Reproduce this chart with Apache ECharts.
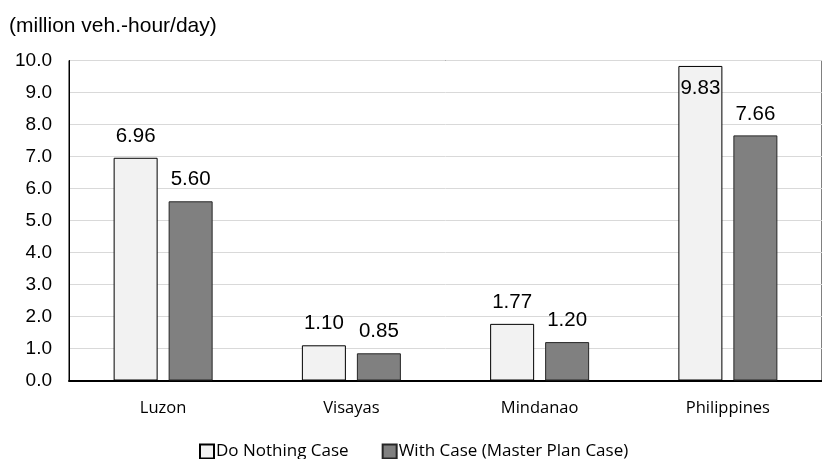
<!DOCTYPE html>
<html>
<head>
<meta charset="utf-8">
<script src="https://cdn.jsdelivr.net/npm/echarts@6/dist/echarts.min.js"></script>
<style>
  html, body { margin: 0; padding: 0; background: #fff; }
  #chart { width: 822px; height: 459px; }
</style>
</head>
<body>
<div id="chart"></div>
<script>
// Regions and congestion values (million vehicle-hours per day)
const regions = ['Luzon', 'Visayas', 'Mindanao', 'Philippines'];
const doNothing = [6.96, 1.10, 1.77, 9.83];
const withCase = [5.60, 0.85, 1.20, 7.66];
const seriesNames = ['Do Nothing Case', 'With Case (Master Plan Case)'];
const unitLabel = '(million veh.-hour/day)';

const chart = echarts.init(document.getElementById('chart'));

const numFont = '"Liberation Sans", Arial, sans-serif';
const catFont = '"Open Sans", "Noto Sans", sans-serif';

// The tallest bar carries its label just inside its top edge
function labelFor(values, insideIdx) {
  return values.map((v, i) => ({
    value: v,
    label: i === insideIdx
      ? { position: 'insideTop', distance: 12 }
      : {}
  }));
}

chart.setOption({
  animation: false,
  title: {
    text: unitLabel,
    left: 4,
    top: 11,
    textStyle: { fontFamily: numFont, fontSize: 21, fontWeight: 'normal', color: '#000' }
  },
  legend: {
    bottom: -6,
    left: 194,
    itemWidth: 14,
    itemHeight: 14,
    itemGap: 33,
    icon: 'rect',
    textStyle: { fontFamily: catFont, fontSize: 17, color: '#000', padding: [0, 0, 0, -3] },
    data: seriesNames
  },
  grid: {
    left: 69,
    top: 60.5,
    width: 766,
    height: 320,
    show: true,
    borderColor: '#000',
    borderWidth: 1,
    containLabel: false
  },
  xAxis: {
    type: 'category',
    data: regions,
    axisLine: { lineStyle: { color: '#000', width: 2 } },
    axisTick: { show: false },
    axisLabel: { fontFamily: catFont, fontSize: 16.5, color: '#000', margin: 19 }
  },
  yAxis: {
    type: 'value',
    min: 0,
    max: 10,
    interval: 1,
    axisLine: { show: true, lineStyle: { color: '#000', width: 1 } },
    axisTick: { show: false },
    axisLabel: {
      fontFamily: numFont, fontSize: 19, color: '#000', margin: 17,
      formatter: v => v.toFixed(1)
    },
    splitLine: { lineStyle: { color: '#d9d9d9', width: 1 } }
  },
  series: [
    {
      name: seriesNames[0],
      type: 'bar',
      barWidth: 44,
      barGap: '25%',
      data: labelFor(doNothing, 3),
      itemStyle: { color: '#f2f2f2', borderColor: '#000', borderWidth: 1 },
      label: {
        show: true, position: 'top', distance: 11,
        fontFamily: numFont, fontSize: 20.5, color: '#000',
        formatter: p => p.value.toFixed(2)
      }
    },
    {
      name: seriesNames[1],
      type: 'bar',
      barWidth: 44,
      data: withCase,
      itemStyle: { color: '#808080', borderColor: '#262626', borderWidth: 1 },
      label: {
        show: true, position: 'top', distance: 11,
        fontFamily: numFont, fontSize: 20.5, color: '#000',
        formatter: p => p.value.toFixed(2)
      }
    }
  ]
});
</script>
</body>
</html>
